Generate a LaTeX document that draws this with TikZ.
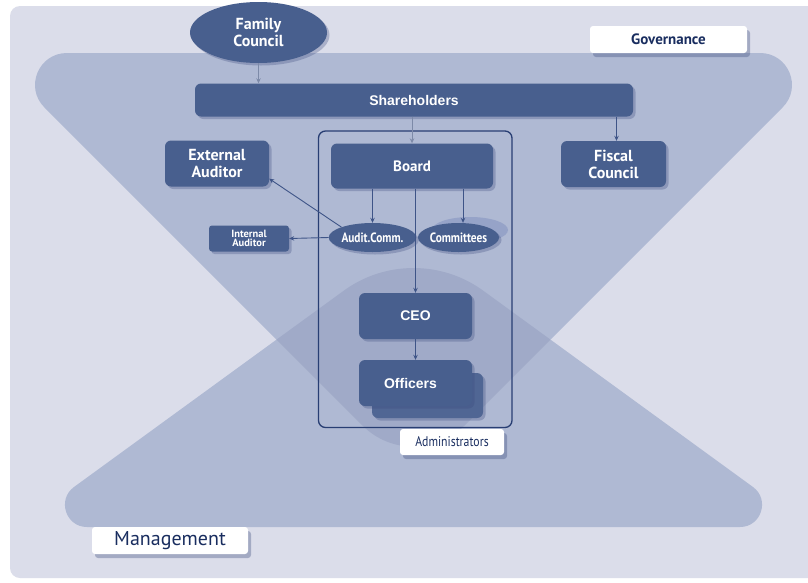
\documentclass[tikz,border=0pt]{standalone}
\usepackage{fontspec}
\setmainfont{PT Sans}
\newfontfamily\arialf{Liberation Sans}
\newfontfamily\condf[FakeStretch=0.84]{PT Sans}
\usetikzlibrary{shapes.geometric,shadows,arrows.meta}
\definecolor{bgc}{RGB}{219,221,234}
\definecolor{tric}{RGB}{175,185,211}
\definecolor{ovc}{RGB}{160,170,200}
\definecolor{nodec}{RGB}{72,95,142}
\definecolor{backc}{RGB}{80,102,148}
\definecolor{ringc}{RGB}{150,163,200}
\definecolor{arrc}{RGB}{62,84,135}
\definecolor{grayarr}{RGB}{125,138,168}
\definecolor{navy}{RGB}{25,45,95}
\definecolor{shadc}{RGB}{60,75,125}
\definecolor{framec}{RGB}{40,62,115}
\begin{document}
\begin{tikzpicture}[x=1pt,y=-1pt,
  box/.style={rectangle, rounded corners=6pt, fill=nodec, text=white, inner sep=0pt, align=center,
    drop shadow={shadow xshift=2.5pt, shadow yshift=-2.5pt, opacity=0.3, fill=shadc}},
  oval/.style={ellipse, fill=nodec, text=white, inner sep=0pt, align=center,
    drop shadow={shadow xshift=2.5pt, shadow yshift=-2.5pt, opacity=0.3, fill=shadc}},
  tag/.style={rectangle, rounded corners=3pt, fill=white, text=navy, inner sep=0pt,
    drop shadow={shadow xshift=3pt, shadow yshift=-4pt, opacity=0.35, fill=shadc}},
  arr/.style={draw=arrc, line width=0.9pt, -{Stealth[length=5pt,width=4.5pt]}},
  garr/.style={arr, draw=grayarr},
  bigfont/.style={font=\bfseries\fontsize{16}{17}\selectfont},
  arfont/.style={font=\arialf\bfseries\fontsize{14}{16}\selectfont},
  cfont/.style={font=\condf\bfseries\fontsize{13.5}{14}\selectfont}
]
\useasboundingbox (0,0) rectangle (808,582);
\clip (0,0) rectangle (808,582);
\fill[white] (0,0) rectangle (808,582);
\fill[bgc, rounded corners=10pt] (10,6) rectangle (830,578);

% Governance (inverted triangle)
\def\govpath{(67,53) -- (760,53) .. controls (788.4,53) and (802.7,87.3) .. (782.6,107.4)
  -- (464.4,425.6) .. controls (436.3,453.7) and (390.7,453.7) .. (362.6,425.6)
  -- (44.4,107.4) .. controls (24.3,87.3) and (38.6,53) .. (67,53) -- cycle}
% Management (triangle)
\def\mgmtpath{(87,527) -- (740,527) .. controls (761.3,527) and (770.2,499.5) .. (753,487)
  -- (483.1,290.6) .. controls (441.7,260.5) and (385.3,260.5) .. (343.9,290.6)
  -- (74,487) .. controls (56.8,499.5) and (65.7,527) .. (87,527) -- cycle}
\fill[tric] \govpath;
\fill[tric] \mgmtpath;
\begin{scope}
  \clip \govpath;
  \fill[ovc] \mgmtpath;
\end{scope}

% Administrators frame
\node[draw=framec, line width=1.3pt, rounded corners=7pt, minimum width=193.5pt, minimum height=296.5pt, inner sep=0pt] (frame) at (415.25,279.25) {};

% Nodes
\node[oval, bigfont, minimum width=137pt, minimum height=61pt] (fc) at (258.5,32.5) {Family\\Council};
\node[box, arfont, minimum width=438pt, minimum height=33pt] (sh) at (414,100) {Shareholders};
\node[box, bigfont, minimum width=104pt, minimum height=46pt] (ext) at (217,163.5) {External\\Auditor};
\node[box, font=\bfseries\fontsize{15}{16}\selectfont, minimum width=162pt, minimum height=45pt] (brd) at (412,166) {Board};
\node[box, bigfont, minimum width=105pt, minimum height=46pt] (fis) at (613.5,164) {Fiscal\\Council};
\node[ellipse, fill=ringc, minimum width=76pt, minimum height=26pt, inner sep=0pt] (ring) at (470,230) {};
\node[oval, cfont, minimum width=79pt, minimum height=29pt] (ac) at (372.5,237.5) {Audit.Comm.};
\node[oval, cfont, minimum width=81pt, minimum height=29pt] (cm) at (458.5,237.5) {Committees};
\node[box, rounded corners=3pt, font=\bfseries\fontsize{10.5}{9.5}\selectfont, minimum width=80pt, minimum height=26pt] (ia) at (249,238.5) {Internal\\Auditor};
\node[box, arfont, minimum width=113pt, minimum height=46pt] (ceo) at (415.5,316) {CEO};
\node[box, fill=backc, minimum width=111pt, minimum height=45pt] (ofb) at (427.5,395.5) {};
\node[box, arfont, minimum width=113pt, minimum height=46pt] (of) at (415.5,383) {\hspace*{-10pt}Officers};

% Labels
\node[tag, font=\condf\fontsize{14}{15}\selectfont, minimum width=104pt, minimum height=26pt] (adm) at (452,442) {Administrators};
\node[tag, font=\bfseries\fontsize{15}{16}\selectfont, minimum width=157pt, minimum height=27pt] (gov) at (668.5,39.5) {Governance};
\node[tag, font=\fontsize{20}{22}\selectfont, minimum width=156pt, minimum height=27pt] (mgmt) at (170,540.5) {Management};

% Connectors
\draw[garr] (fc.south) -- (fc.south |- sh.north);
\draw[garr] (brd.north |- sh.south) -- (brd.north);
\draw[arr] ([xshift=3pt]fis.north |- sh.south) -- ([xshift=3pt]fis.north);
\draw[arr] (ac.north |- brd.south) -- (ac.north);
\draw[arr] ([xshift=4.5pt]cm.north |- brd.south) -- ([xshift=4.5pt]cm.north);
\draw[arr] (ceo.north |- brd.south) -- (ceo.north);
\draw[arr] (ac.north west) -- ([yshift=8pt]ext.south east);
\draw[arr] (ac.west) -- (ia.east);
\draw[arr] (ceo.south) -- (of.north);
\end{tikzpicture}
\end{document}
